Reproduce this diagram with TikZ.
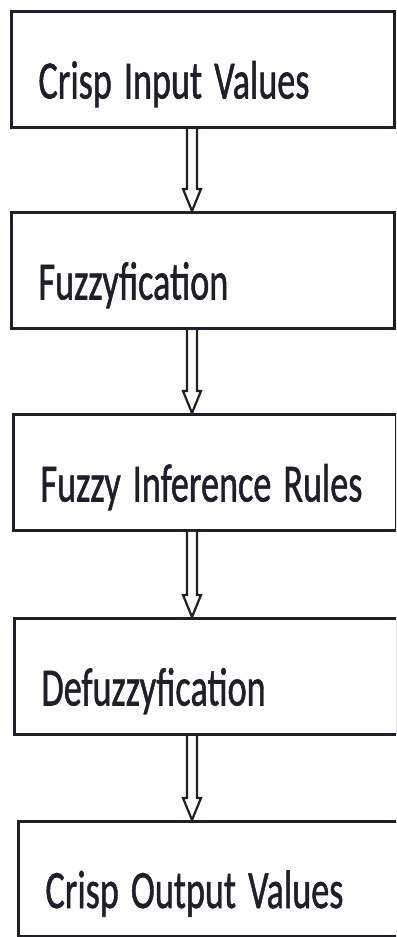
\documentclass[tikz,border=0pt]{standalone}
\usepackage{fontspec}
\usepackage{graphicx}
\newfontfamily\stagefont[FakeBold=1.2]{Carlito}
\definecolor{inkc}{RGB}{32,30,40}
\newcommand\narrow[1]{\scalebox{0.67}[1]{#1}}
\tikzset{
	stage/.style={draw=inkc, line width=3bp, anchor=north west,
		minimum width=383bp, minimum height=116bp, text width=329bp,
		inner xsep=27bp, inner ysep=0pt, align=left,
		text height=58bp, text depth=0pt, text=inkc,
		font={\stagefont\fontsize{54bp}{60bp}\selectfont}},
	flowline/.style={draw=inkc, line width=2.2bp}
}
\begin{document}
\begin{tikzpicture}[x=1bp,y=-1bp]
	\clip(0,0)rectangle(396,937);
	\fill[white](0,0)rectangle(396,937);
	\node[stage](in)at(10,10){\narrow{Crisp Input Values}};
	\node[stage](fuz)at(10,211){\narrow{Fuzzyfication}};
	\node[stage](inf)at(12,413){\narrow{Fuzzy Inference Rules}};
	\node[stage](def)at(13,617){\narrow{Defuzzyfication}};
	\node[stage, minimum height=115bp](out)at(17,820){\narrow{Crisp Output Values}};
	\coordinate(ax)at(192,0);
	\foreach \a/\b in {in/fuz,fuz/inf,inf/def,def/out} {
		\draw[flowline]([xshift=-5bp]\a.south -| ax)
			--([xshift=-5bp,yshift=22bp]\b.north -| ax)
			--([xshift=-9bp,yshift=22bp]\b.north -| ax)
			--(\b.north -| ax)
			--([xshift=9bp,yshift=22bp]\b.north -| ax)
			--([xshift=5bp,yshift=22bp]\b.north -| ax)
			--([xshift=5bp]\a.south -| ax);
	}
\end{tikzpicture}
\end{document}
